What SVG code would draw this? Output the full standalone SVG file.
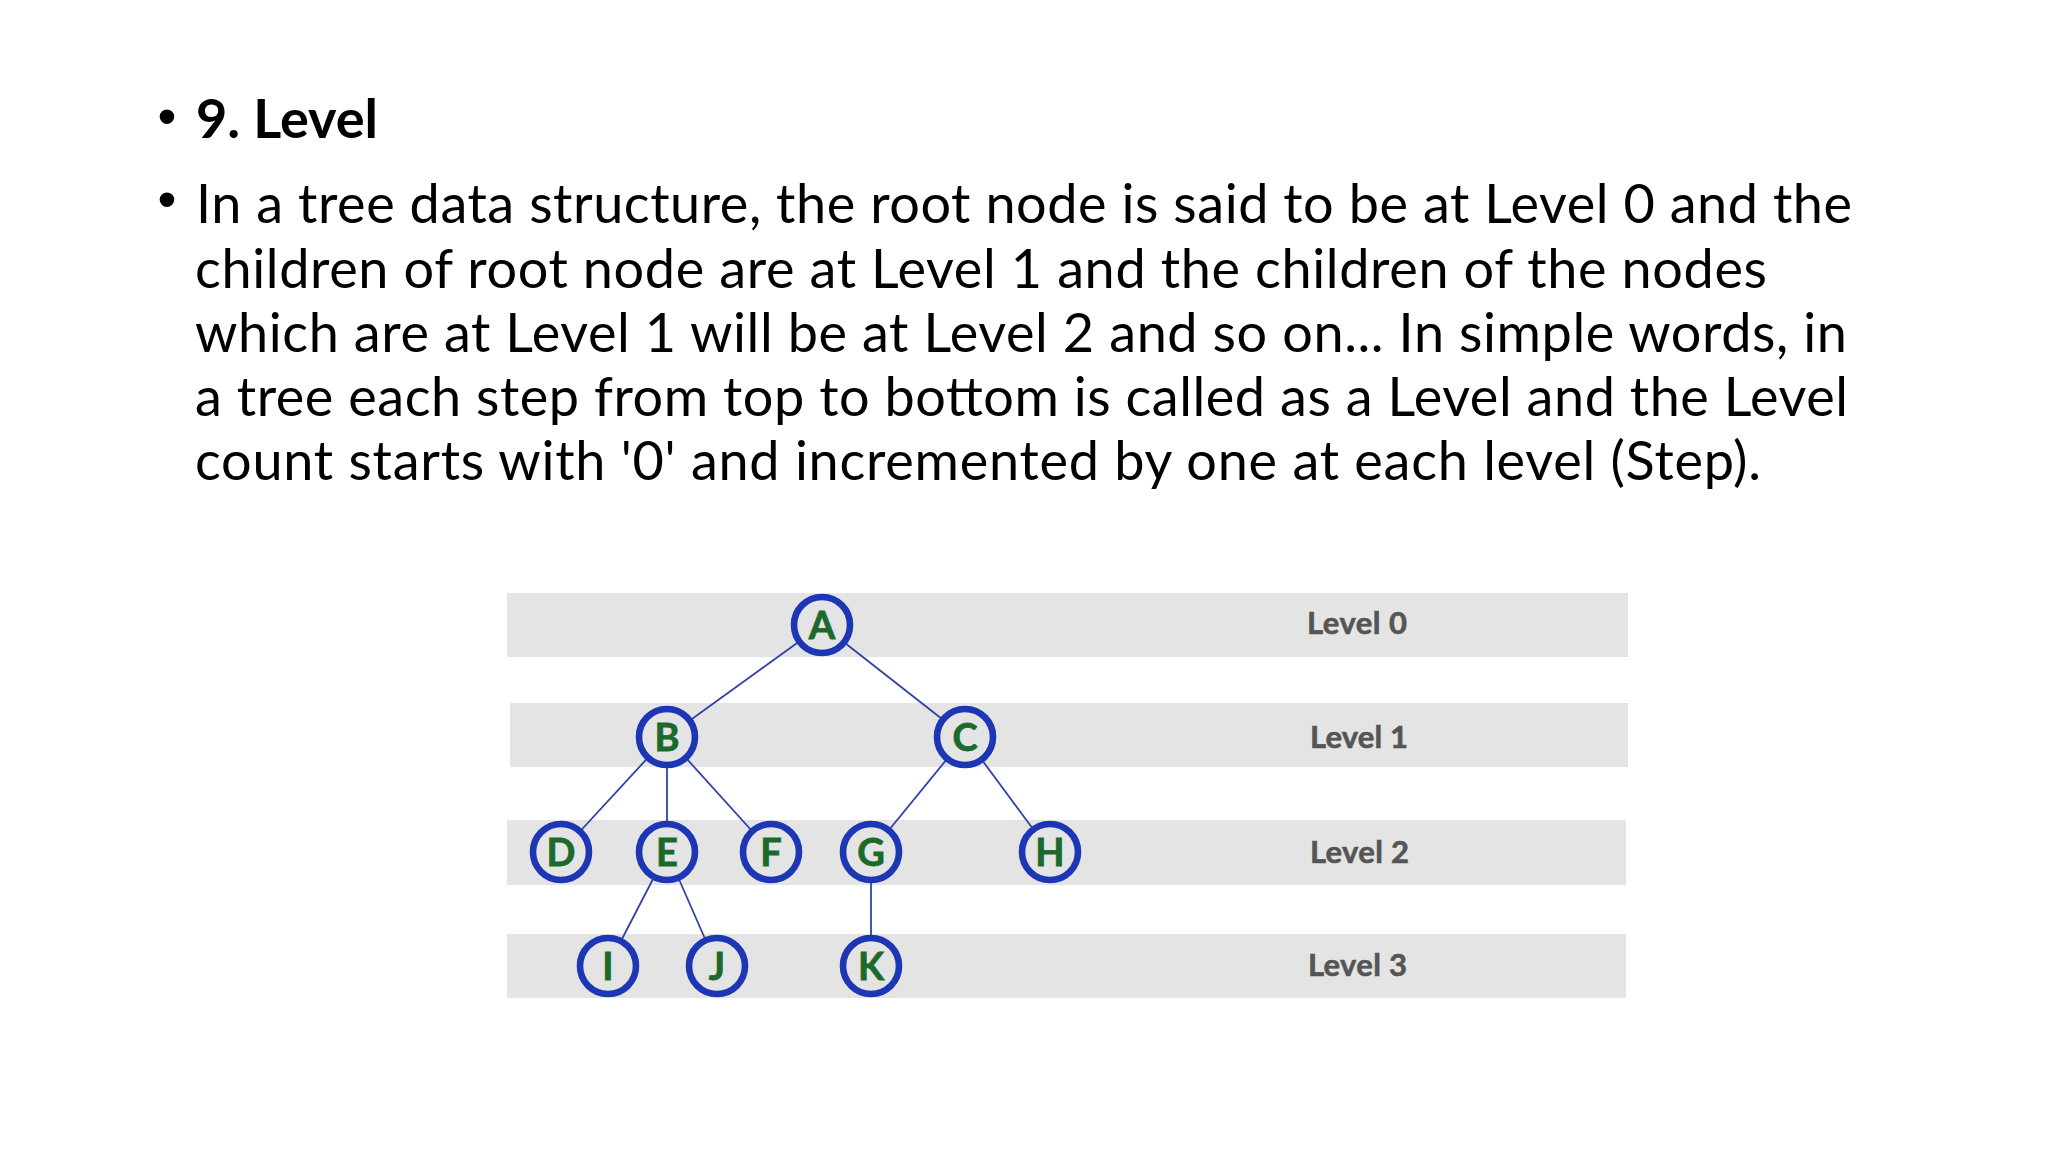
<svg xmlns="http://www.w3.org/2000/svg" width="2048" height="1152" viewBox="0 0 2048 1152">
  <style>
    .bul { font-family: "Liberation Sans", Arial, sans-serif; font-size: 54px; fill: #000; }
    .title { font-family: Lato, "Open Sans", sans-serif; font-weight: bold; font-size: 54px; fill: #000; }
    .body { font-family: Lato, "Open Sans", sans-serif; font-size: 54px; fill: #000; }
    .band { fill: #e4e4e4; }
    .lvl { font-family: Lato, "Open Sans", sans-serif; font-weight: bold; font-size: 31px; fill: #555555; stroke: #555555; stroke-width: 0.6; text-anchor: middle; }
    .node circle { fill: #e4e4e4; stroke: #1d36b4; stroke-width: 6.6; }
    .node text { font-family: Lato, "Open Sans", sans-serif; font-weight: bold; font-size: 38px; fill: #1c6a2b; stroke: #1c6a2b; stroke-width: 0.8; text-anchor: middle; }
    .edges line { stroke: #3142a6; stroke-width: 1.8; }
  </style>
  <rect width="2048" height="1152" fill="#ffffff"/>

  <g id="text">
    <text class="bul" x="167" y="135" text-anchor="middle">•</text>
    <text class="title" x="196" y="138" textLength="182">9. Level</text>
    <text class="bul" x="167" y="218" text-anchor="middle">•</text>
    <text class="body" x="196" y="223" textLength="1656">In a tree data structure, the root node is said to be at Level 0 and the</text>
    <text class="body" x="195" y="288" textLength="1572">children of root node are at Level 1 and the children of the nodes</text>
    <text class="body" x="195" y="352" textLength="1652">which are at Level 1 will be at Level 2 and so on... In simple words, in</text>
    <text class="body" x="195" y="416" textLength="1653">a tree each step from top to bottom is called as a Level and the Level</text>
    <text class="body" x="195" y="480" textLength="1566">count starts with '0' and incremented by one at each level (Step).</text>
  </g>

  <g id="bands">
    <rect class="band" x="507" y="593" width="1121" height="64"/>
    <rect class="band" x="510" y="703" width="1118" height="64"/>
    <rect class="band" x="507" y="820" width="1119" height="65"/>
    <rect class="band" x="507" y="934" width="1119" height="64"/>
    <text class="lvl" x="1357" y="634" textLength="100">Level 0</text>
    <text class="lvl" x="1359" y="748" textLength="98">Level 1</text>
    <text class="lvl" x="1359.5" y="863" textLength="99">Level 2</text>
    <text class="lvl" x="1357.5" y="976" textLength="99">Level 3</text>
  </g>

  <g id="connectors" class="edges">
    <line x1="822" y1="625" x2="667" y2="737"/>
    <line x1="822" y1="625" x2="965" y2="737"/>
    <line x1="667" y1="737" x2="561" y2="852"/>
    <line x1="667" y1="737" x2="667" y2="852"/>
    <line x1="667" y1="737" x2="771" y2="852"/>
    <line x1="965" y1="737" x2="871" y2="852"/>
    <line x1="965" y1="737" x2="1050" y2="852"/>
    <line x1="667" y1="852" x2="608" y2="966"/>
    <line x1="667" y1="852" x2="717" y2="966"/>
    <line x1="871" y1="852" x2="871" y2="966"/>
  </g>

  <g id="node-A" class="node"><circle cx="822" cy="625" r="28"/><text x="822" y="638.5">A</text></g>
  <g id="node-B" class="node"><circle cx="667" cy="737" r="28"/><text x="667" y="750.5">B</text></g>
  <g id="node-C" class="node"><circle cx="965" cy="737" r="28"/><text x="965" y="750.5">C</text></g>
  <g id="node-D" class="node"><circle cx="561" cy="852" r="28"/><text x="561" y="865.5">D</text></g>
  <g id="node-E" class="node"><circle cx="667" cy="852" r="28"/><text x="667" y="865.5">E</text></g>
  <g id="node-F" class="node"><circle cx="771" cy="852" r="28"/><text x="771" y="865.5">F</text></g>
  <g id="node-G" class="node"><circle cx="871" cy="852" r="28"/><text x="871" y="865.5">G</text></g>
  <g id="node-H" class="node"><circle cx="1050" cy="852" r="28"/><text x="1050" y="865.5">H</text></g>
  <g id="node-I" class="node"><circle cx="608" cy="966" r="28"/><text x="608" y="979.5">I</text></g>
  <g id="node-J" class="node"><circle cx="717" cy="966" r="28"/><text x="717" y="979.5">J</text></g>
  <g id="node-K" class="node"><circle cx="871" cy="966" r="28"/><text x="871" y="979.5">K</text></g>
</svg>
